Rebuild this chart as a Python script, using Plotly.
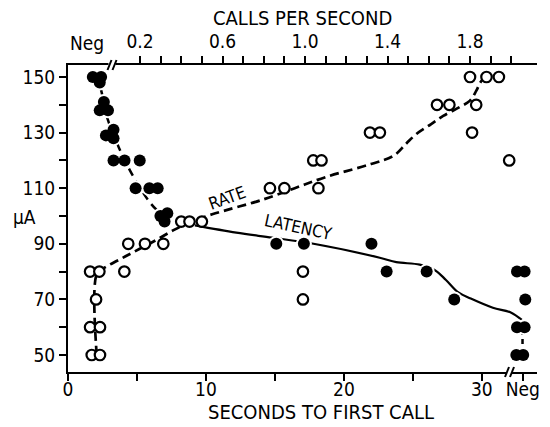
import plotly.graph_objects as go

# ---------------- data ----------------
# Latency (filled circles): seconds to first call vs current (uA); 33 = "Neg"
lat_sec = [1.8, 2.4, 2.3, 2.6, 2.3, 2.9, 3.3, 2.75, 3.3, 3.3, 4.1, 5.2,
           4.9, 5.9, 6.5, 6.7, 7.2, 7.0, 15.1, 17.1, 22.0, 23.1, 26.0, 28.0,
           32.55, 33.1, 33.15, 32.55, 33.1, 32.5, 33.0]
lat_ua = [150, 150, 148, 141, 138, 138, 131, 129, 128, 120, 120, 120,
          110, 110, 110, 100, 101, 98, 90, 90, 90, 80, 80, 70,
          80, 80, 70, 60, 60, 50, 50]

# Rate (open circles): calls per second vs current (uA); values near 0 = "Neg"
rate_cps = [-0.042, 0.003, -0.013, -0.042, 0.006, -0.034, 0.006, 0.124,
            0.143, 0.224, 0.313, 0.40, 0.44, 0.50, 0.83, 0.90, 1.065,
            1.04, 1.08, 0.99, 0.99, 1.315, 1.363, 1.64, 1.70, 1.83, 1.81,
            1.80, 1.88, 1.94, 1.99]
rate_ua = [80, 80, 70, 60, 60, 50, 50, 80, 90, 90, 90, 98, 98, 98, 110, 110,
           110, 120, 120, 80, 70, 130, 130, 140, 140, 140, 130, 150, 150,
           150, 120]

# Fitted curves
lat_dash_sec = [2.0, 2.3, 2.9, 3.7, 4.7, 6.0, 6.9]
lat_dash_ua = [150, 147, 134.5, 124.5, 114.5, 104.5, 100]
lat_solid_sec = [9.2, 12.2, 14.8, 17.7, 22.6, 23.8, 25.5, 26.6, 27.4, 28.3,
                 29.2, 30.8, 32.1, 32.9]
lat_solid_ua = [96.6, 94.0, 92.2, 90.1, 85.0, 83.4, 82.5, 80.5, 77.0, 72.5,
                70.3, 67.0, 65.3, 62.6]
lat_neg_sec = [32.95, 32.95]
lat_neg_ua = [59, 51]

rate_line_cps = [-0.01, -0.01, 0.02, 0.13, 0.27, 0.37, 0.45, 0.55, 0.8, 0.95,
                 1.1, 1.32, 1.43, 1.49, 1.54, 1.61, 1.67, 1.75, 1.8, 1.83,
                 1.85, 1.87]
rate_line_ua = [50, 79, 81, 85.5, 91, 95.2, 98, 100.6, 106, 110, 114, 118.7,
                121.7, 126, 129.5, 133, 136, 139.2, 141.5, 145, 148, 150]

# Axis ticks
y_ticks = [50, 60, 70, 80, 90, 100, 110, 120, 130, 140, 150]
y_labels = ["50", "", "70", "", "90", "", "110", "", "130", "", "150"]
sec_ticks = [0, 5, 10, 15, 20, 25, 30, 32.97]
sec_labels = ["0", "", "10", "", "20", "", "30", "Neg"]
cps_ticks = [0.2, 0.3, 0.4, 0.5, 0.6, 0.7, 0.8, 0.9, 1.0, 1.1, 1.2, 1.3, 1.4,
             1.5, 1.6, 1.7, 1.8, 1.9, 2.0]
cps_labels = ["0.2", "", "", "", "0.6", "", "", "", "1.0", "", "", "", "1.4",
              "", "", "", "1.8", "", ""]

FONT = "DejaVu Sans Condensed, DejaVu Sans, sans-serif"

fig = go.Figure()

# lines
fig.add_trace(go.Scatter(x=lat_dash_sec, y=lat_dash_ua, mode="lines",
                         line=dict(color="black", width=2.5, dash="8px,6px", shape="spline"),
                         xaxis="x", yaxis="y", hoverinfo="skip"))
fig.add_trace(go.Scatter(x=lat_solid_sec, y=lat_solid_ua, mode="lines",
                         line=dict(color="black", width=2.2, shape="spline"),
                         xaxis="x", yaxis="y", hoverinfo="skip"))
fig.add_trace(go.Scatter(x=lat_neg_sec, y=lat_neg_ua, mode="lines",
                         line=dict(color="black", width=2.5, dash="5px,4px"),
                         xaxis="x", yaxis="y", hoverinfo="skip"))
fig.add_trace(go.Scatter(x=rate_line_cps, y=rate_line_ua, mode="lines",
                         line=dict(color="black", width=2.7, dash="9px,5px", shape="spline"),
                         xaxis="x2", yaxis="y", hoverinfo="skip"))

# halo + filled circles (latency)
fig.add_trace(go.Scatter(x=lat_sec, y=lat_ua, mode="markers",
                         marker=dict(size=16, color="white", line=dict(width=0)),
                         xaxis="x", yaxis="y", hoverinfo="skip"))
fig.add_trace(go.Scatter(x=lat_sec, y=lat_ua, mode="markers",
                         marker=dict(size=12, color="black", line=dict(width=0)),
                         xaxis="x", yaxis="y"))
# open circles (rate)
fig.add_trace(go.Scatter(x=rate_cps, y=rate_ua, mode="markers",
                         marker=dict(size=10.5, color="white",
                                     line=dict(width=2.2, color="black")),
                         xaxis="x2", yaxis="y"))

axis_common = dict(showgrid=False, zeroline=False, showline=True,
                   linecolor="black", linewidth=2, ticks="outside",
                   ticklen=7, tickwidth=2, tickcolor="black",
                   tickfont=dict(family=FONT, size=19, color="black"),
                   automargin=False)

fig.update_layout(
    width=550, height=427,
    margin=dict(l=68, r=13, t=65, b=55),
    paper_bgcolor="white", plot_bgcolor="white",
    showlegend=False,
    xaxis=dict(range=[0, 34.0], tickmode="array", tickvals=sec_ticks,
               ticktext=sec_labels, ticklabelstandoff=-8, **axis_common),
    xaxis2=dict(range=[-0.1491, 2.1248], overlaying="x", side="top",
                anchor="y", tickmode="array", tickvals=cps_ticks,
                ticktext=cps_labels, **axis_common),
    yaxis=dict(range=[43.88, 154.32], tickmode="array", tickvals=y_ticks,
               ticktext=y_labels, **axis_common),
)

# axis breaks (white gap + double slash)
def px2paper_x(px):
    return (px - 68) / 469.0

def px2paper_y(py):
    return (372 - py) / 307.0

for (gx0, gx1, gy) in [(108.5, 115.5, 65), (506, 511, 372)]:
    fig.add_shape(type="rect", xref="paper", yref="paper",
                  x0=px2paper_x(gx0), x1=px2paper_x(gx1),
                  y0=px2paper_y(gy + 2), y1=px2paper_y(gy - 2),
                  fillcolor="white", line=dict(width=0), layer="above")
    for off in [0, 5]:
        fig.add_shape(type="line", xref="paper", yref="paper",
                      x0=px2paper_x(gx0 - 1 + off), y0=px2paper_y(gy + 5),
                      x1=px2paper_x(gx0 + 3 + off), y1=px2paper_y(gy - 5),
                      line=dict(color="black", width=2), layer="above")

ann_font = dict(family=FONT, size=20, color="black")
fig.add_annotation(text="CALLS PER SECOND", xref="paper", yref="paper",
                   x=px2paper_x(302), y=px2paper_y(18), showarrow=False,
                   font=ann_font, xanchor="center", yanchor="middle")
fig.add_annotation(text="SECONDS TO FIRST CALL", xref="paper", yref="paper",
                   x=px2paper_x(321), y=px2paper_y(412), showarrow=False,
                   font=ann_font, xanchor="center", yanchor="middle")
fig.add_annotation(text="Neg", xref="paper", yref="paper",
                   x=px2paper_x(87), y=px2paper_y(43), showarrow=False,
                   font=dict(family=FONT, size=19, color="black"),
                   xanchor="center", yanchor="middle")
fig.add_annotation(text="\u03bcA", xref="paper", yref="paper",
                   x=px2paper_x(24), y=px2paper_y(217), showarrow=False,
                   font=dict(family=FONT, size=19, color="black"),
                   xanchor="center", yanchor="middle")
fig.add_annotation(text="RATE", xref="x", yref="y", x=11.5, y=106.5,
                   showarrow=False, textangle=-20,
                   font=dict(family=FONT, size=17, color="black"))
fig.add_annotation(text="LATENCY", xref="x", yref="y", x=16.7, y=96.0,
                   showarrow=False, textangle=12,
                   font=dict(family=FONT, size=17, color="black"))

fig.write_html("out.html")
